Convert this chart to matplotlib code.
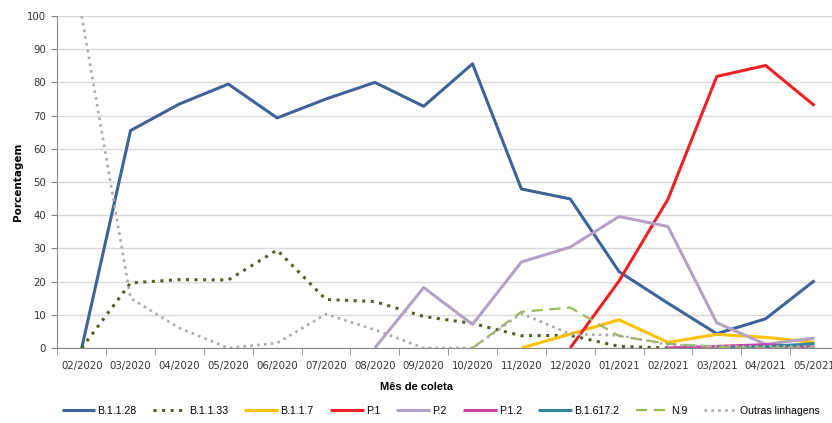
import matplotlib
matplotlib.use("Agg")
import matplotlib.pyplot as plt
import numpy as np

# months (x categories)
months = ["02/2020", "03/2020", "04/2020", "05/2020", "06/2020", "07/2020",
          "08/2020", "09/2020", "10/2020", "11/2020", "12/2020", "01/2021",
          "02/2021", "03/2021", "04/2021", "05/2021"]

# series values (None = no data for that month)
b1128 = [0, 65.5, 73.5, 79.5, 69.3, 75, 80, 72.8, 85.6, 47.9, 44.9, 23, 13.5, 4.3, 8.8, 20.3]
b1133 = [0, 19.6, 20.6, 20.5, 29.5, 14.6, 14, 9.5, 7.4, 3.7, 3.8, 0.5, 0, 0, 0, 0]
b117 = [None] * 9 + [0, 4.2, 8.5, 1.7, 4.1, 3.2, 1.7]
p1 = [None] * 10 + [0, 20.2, 44.8, 81.8, 85.1, 73]
p2 = [None] * 6 + [0, 18.2, 7.1, 25.9, 30.4, 39.6, 36.6, 7.6, 1.1, 3]
p12 = [None] * 12 + [0, 0.5, 1, 0.3]
b16172 = [None] * 13 + [0, 0.4, 1.3]
n9 = [None] * 8 + [0, 10.9, 12.2, 3.6, 1.3, 0.3, 0, 0]
outras = [100, 15, 6, 0, 1.5, 10.2, 5.5, 0, 0, 10.4, 4.2, 3.8, 1, 0.5, 0.5, 0.5]

series = [
    ("B.1.1.28", b1128, "#3d6399", "-", 2.2),
    ("B.1.1.33", b1133, "#4f6228", (0, (1, 1.8)), 2.2),
    ("B.1.1.7", b117, "#ffc000", "-", 2.2),
    ("P.1", p1, "#ec2227", "-", 2.2),
    ("P.2", p2, "#b3a2c7", "-", 2.2),
    ("P.1.2", p12, "#cc44aa", "-", 2.2),
    ("B.1.617.2", b16172, "#31859c", "-", 2.2),
    ("N.9", n9, "#9bbb59", (0, (5, 3)), 1.6),
    ("Outras linhagens", outras, "#acacac", (0, (1, 1.6)), 1.9),
]

narrow = ["Liberation Sans Narrow", "Liberation Sans", "DejaVu Sans"]

fig = plt.figure(figsize=(8.32, 4.23), dpi=100)
W, H = 832, 423
ax = fig.add_axes([57.3 / W, (H - 348) / H, 781.6 / W, (348 - 16) / H])

x = np.arange(len(months))
for name, vals, color, ls, lw in series:
    y = np.array([np.nan if v is None else v for v in vals], dtype=float)
    ax.plot(x, y, color=color, linestyle=ls, linewidth=lw, label=name,
            solid_capstyle="butt")

ax.set_xlim(-0.5, len(months) - 0.5)
ax.set_ylim(0, 100)
ax.set_yticks(np.arange(0, 101, 10))
ax.set_xticks(x)
ax.set_xticklabels(months, fontsize=7.3, color="#333333")
ax.set_xticks(np.arange(-0.5, len(months), 1), minor=True)
ax.tick_params(axis="x", which="major", length=0, pad=9)
ax.tick_params(axis="x", which="minor", length=5, color="#888888")
ax.tick_params(axis="y", length=4, color="#888888", labelsize=7.3,
               labelcolor="#333333", pad=4)

ax.grid(axis="y", color="#d9d9d9", linewidth=1)
ax.set_axisbelow(True)
for s in ["top", "right"]:
    ax.spines[s].set_visible(False)
for s in ["left", "bottom"]:
    ax.spines[s].set_color("#888888")

ax.set_ylabel("Porcentagem", fontsize=7.5, fontweight="bold", labelpad=3)
fig.text(0.5, (H - 387) / H, "Mês de coleta", fontsize=8, fontweight="bold",
         ha="center", va="center", family=narrow)

fig.legend(loc="center left", bbox_to_anchor=(52 / W, (H - 411) / H), ncol=9,
           frameon=False, handlelength=3.2, handletextpad=0.2,
           columnspacing=1.55, prop={"size": 7.6, "family": narrow})

fig.savefig("out.png", dpi=100)
